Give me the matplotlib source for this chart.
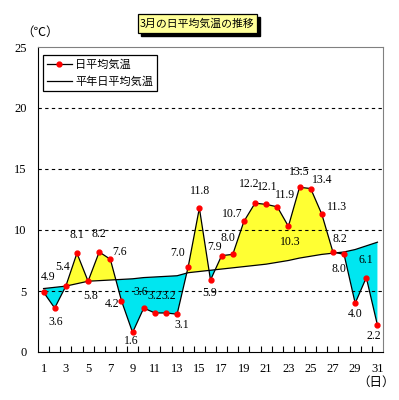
import numpy as np
import matplotlib
matplotlib.use("Agg")
import matplotlib.pyplot as plt
from matplotlib.patches import Rectangle
from matplotlib.lines import Line2D

# Data
days = np.arange(1, 32)
daily_temp = [4.9, 3.6, 5.4, 8.1, 5.8, 8.2, 7.6, 4.2, 1.6, 3.6, 3.2, 3.2, 3.1, 7.0, 11.8, 5.9,
              7.9, 8.0, 10.7, 12.2, 12.1, 11.9, 10.3, 13.5, 13.4, 11.3, 8.2, 8.0, 4.0, 6.1, 2.2]
normal_temp = [5.2, 5.3, 5.4, 5.6, 5.8, 5.85, 5.9, 5.95, 6.0, 6.1, 6.15, 6.2, 6.25, 6.5, 6.6, 6.7,
               6.8, 6.9, 7.0, 7.1, 7.2, 7.35, 7.5, 7.7, 7.85, 8.0, 8.1, 8.2, 8.4, 8.7, 9.0]
# label offsets (pixels) for each data label
label_dx = [5, 1, -3, 0, 3, 0, 9, -9, -1, -3, 0, 3, 5, -11, 1, -1,
            -7, -5, -12, -6, 1, 8, 2, 0, 12, 15, 7, -5, 0, 0, -4]
label_dy = [15, -14, 19, 18, -15, 18, 7, -3, -9, 16, 17, 17, -11, 14, 17, -13,
            9, 16, 7, 19, 17, 12, -16, 15, 9, 7, 13, -15, -11, 18, -11]

DPI = 100
fig = plt.figure(figsize=(3.99, 4.0), dpi=DPI)
ax = fig.add_axes([38 / 399, 48 / 400, 345 / 399, 305 / 400])

num_font = "Liberation Serif"
jp_font = ["Noto Sans CJK JP", "DejaVu Sans"]

d = np.array(daily_temp)
n = np.array(normal_temp)
ax.fill_between(days, d, n, where=d >= n, interpolate=True, color="#FFFF33", lw=0, zorder=1)
ax.fill_between(days, d, n, where=d <= n, interpolate=True, color="#00E6F0", lw=0, zorder=1)
ax.plot(days, n, color="black", lw=0.9, zorder=3)
ax.plot(days, d, color="black", lw=0.9, marker="o", ms=3.5, mfc="red", mec="red", zorder=4)

for x, v, dx, dy in zip(days, daily_temp, label_dx, label_dy):
    ax.annotate(f"{v:.1f}", (x, v), xytext=(dx, dy), textcoords="offset pixels",
                ha="center", va="center", fontsize=8.5, family=num_font, zorder=5)

ax.set_xlim(0.5, 31.5)
ax.set_ylim(0, 25)
ax.set_yticks([0, 5, 10, 15, 20, 25])
ax.set_xticks(np.arange(1, 32, 2))
ax.set_xticks(np.arange(1.5, 31.5, 1), minor=True)
ax.tick_params(axis="x", which="major", length=0, pad=8)
ax.tick_params(axis="x", which="minor", direction="in", length=4, width=0.8)
ax.tick_params(axis="y", length=0, pad=8)
for lab in ax.get_xticklabels() + ax.get_yticklabels():
    lab.set_family(num_font)
    lab.set_fontsize(9)

for yv in [5, 10, 15, 20]:
    ax.axhline(yv, color="black", lw=0.8, ls=(0, (3, 3)), zorder=2)

ax.spines["left"].set_color("black")
ax.spines["bottom"].set_color("black")
ax.spines["top"].set_color("#808080")
ax.spines["right"].set_color("#808080")

handles = [Line2D([], [], color="black", lw=0.9, marker="o", ms=3.5, mfc="red", mec="red"),
           Line2D([], [], color="black", lw=0.9)]
leg = ax.legend(handles, ["日平均気温", "平年日平均気温"], loc="upper left",
                bbox_to_anchor=(0.014, 0.974), borderaxespad=0,
                prop={"family": jp_font, "size": 8},
                fancybox=False, edgecolor="black", framealpha=1, handlelength=2.2,
                borderpad=0.4, labelspacing=0.55, handletextpad=0.3)
leg.get_frame().set_linewidth(0.9)

fig.text(40 / 399, 1 - 32 / 400, "（℃）", family=jp_font, fontsize=9, ha="center", va="center")
fig.text(376 / 399, 1 - 382 / 400, "（日）", family=jp_font, fontsize=9, ha="center", va="center")

# title box with shadow
bx, by, bw, bh = 138, 14, 119, 19
fig.patches.append(Rectangle(((bx + 3) / 399, 1 - (by + bh + 3) / 400), bw / 399, bh / 400,
                             transform=fig.transFigure, facecolor="black", edgecolor="black"))
fig.patches.append(Rectangle((bx / 399, 1 - (by + bh) / 400), bw / 399, bh / 400,
                             transform=fig.transFigure, facecolor="#FFFF99", edgecolor="black", lw=0.9))
fig.text((bx + bw / 2) / 399, 1 - (by + bh / 2) / 400, "3月の日平均気温の推移", family=jp_font,
         fontsize=7.8, ha="center", va="center")

fig.savefig("out.png", dpi=DPI)
